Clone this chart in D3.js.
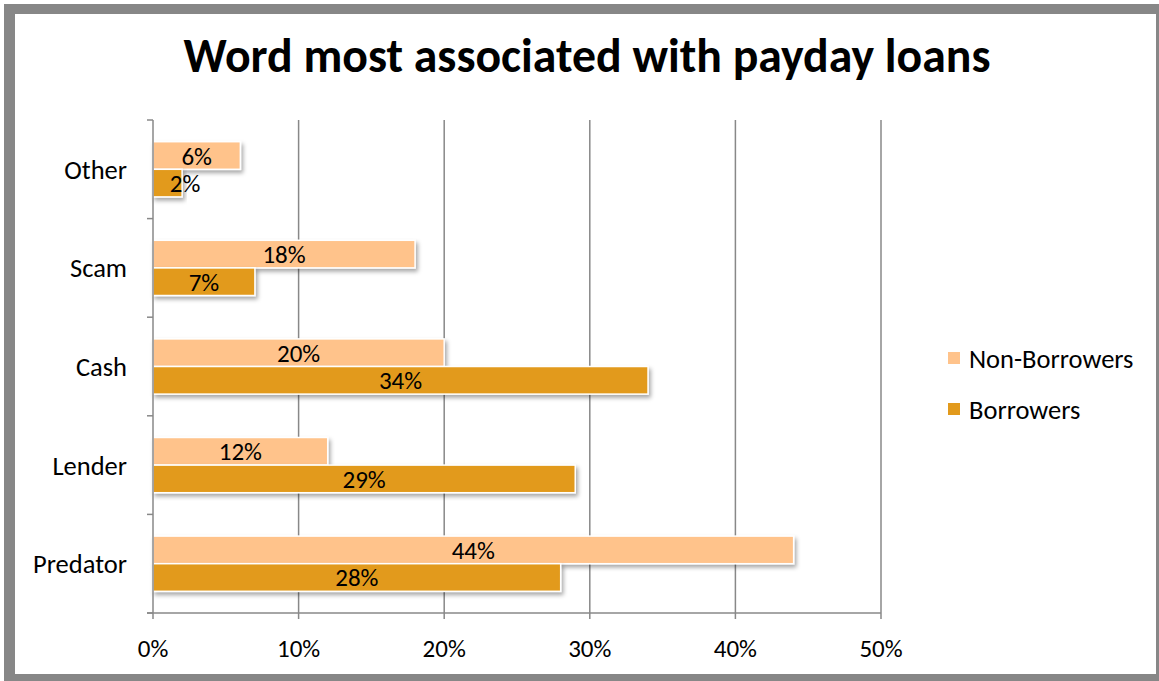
<!DOCTYPE html>
<html>
<head>
<meta charset="utf-8">
<script src="https://cdn.jsdelivr.net/npm/d3@7"></script>
<style>
  html, body { margin: 0; padding: 0; background: #fff; }
  svg { display: block; font-family: Carlito, Calibri, Lato, "Open Sans", sans-serif; }
</style>
</head>
<body>
<svg id="chart" width="1159" height="681"></svg>
<script>
// Survey: word most associated with payday loans (share of respondents)
const categories = ["Other", "Scam", "Cash", "Lender", "Predator"];
const seriesNames = ["Non-Borrowers", "Borrowers"];
const nonBorrowers = [6, 18, 20, 12, 44];
const borrowers = [2, 7, 34, 29, 28];
const xTicks = [0, 10, 20, 30, 40, 50];
const colors = ["#FFC38B", "#E29A1C"];

const W = 1159, H = 681;
const svg = d3.select("#chart");
const fontSize = 25;
const labelSize = 26.5;

// Frame
svg.append("rect").attr("x", 4).attr("y", 4).attr("width", W).attr("height", H).attr("fill", "#878787");
svg.append("rect").attr("x", 15).attr("y", 14).attr("width", 1141).attr("height", 660).attr("fill", "#fff");

// Drop shadow for bars
const defs = svg.append("defs");
const f = defs.append("filter").attr("id", "shadow").attr("x", "-5%").attr("y", "-30%").attr("width", "120%").attr("height", "180%");
f.append("feDropShadow").attr("dx", 2).attr("dy", 3).attr("stdDeviation", 2)
  .attr("flood-color", "#000").attr("flood-opacity", 0.35);

// Title, sized to span its slot
const title = svg.append("text")
  .attr("x", 587).attr("y", 72)
  .attr("text-anchor", "middle")
  .attr("font-weight", "bold")
  .attr("font-size", 40)
  .attr("fill", "#000")
  .text("Word most associated with payday loans");
const tw = title.node().getComputedTextLength();
title.attr("font-size", 40 * 807 / tw);

const plot = { left: 153, right: 881, top: 120, bottom: 613 };

const x = d3.scaleLinear().domain([0, 50]).range([plot.left, plot.right]);
const y = d3.scaleBand().domain(categories).range([plot.top, plot.bottom]).paddingInner(0.44).paddingOuter(0.22);
const ySub = d3.scaleBand().domain(seriesNames).range([0, y.bandwidth()]);

// Vertical gridlines
svg.append("g").selectAll("line").data(xTicks.filter(d => d > 0)).join("line")
  .attr("x1", d => x(d)).attr("x2", d => x(d))
  .attr("y1", plot.top).attr("y2", plot.bottom)
  .attr("stroke", "#888").attr("stroke-width", 1.5);

// Bars
const rows = categories.map((c, i) => ({ cat: c, vals: [nonBorrowers[i], borrowers[i]] }));
const groups = svg.append("g").selectAll("g").data(rows).join("g")
  .attr("transform", d => `translate(0,${y(d.cat)})`);

groups.selectAll("rect").data(d => d.vals.map((v, k) => ({ v, k }))).join("rect")
  .attr("x", x(0))
  .attr("y", d => ySub(seriesNames[d.k]))
  .attr("width", d => x(d.v) - x(0))
  .attr("height", ySub.bandwidth())
  .attr("fill", d => colors[d.k])
  .attr("stroke", "#fff").attr("stroke-width", 1.5)
  .attr("filter", "url(#shadow)");

// Value labels
groups.selectAll("text").data(d => d.vals.map((v, k) => ({ v, k }))).join("text")
  .attr("x", d => Math.max((x(d.v) + x(0)) / 2, plot.left + 32))
  .attr("y", d => ySub(seriesNames[d.k]) + ySub.bandwidth() / 2)
  .attr("dy", "0.36em")
  .attr("text-anchor", "middle")
  .attr("font-size", fontSize)
  .attr("fill", "#000")
  .text(d => d.v + "%");

// Y axis
const yAxis = svg.append("g");
yAxis.append("line").attr("x1", plot.left).attr("x2", plot.left)
  .attr("y1", plot.top).attr("y2", plot.bottom).attr("stroke", "#888").attr("stroke-width", 1.5);
const step = (plot.bottom - plot.top) / categories.length;
yAxis.selectAll("line.tick").data(d3.range(categories.length + 1)).join("line")
  .attr("class", "tick")
  .attr("x1", plot.left - 6).attr("x2", plot.left)
  .attr("y1", i => plot.top + i * step).attr("y2", i => plot.top + i * step)
  .attr("stroke", "#888").attr("stroke-width", 1.5);
yAxis.selectAll("text").data(categories).join("text")
  .attr("x", 127)
  .attr("y", d => y(d) + y.bandwidth() / 2)
  .attr("dy", "0.36em")
  .attr("text-anchor", "end")
  .attr("font-size", labelSize)
  .attr("fill", "#000")
  .text(d => d);

// X axis
const xAxis = svg.append("g");
xAxis.append("line").attr("x1", plot.left - 6).attr("x2", plot.right)
  .attr("y1", plot.bottom).attr("y2", plot.bottom).attr("stroke", "#888").attr("stroke-width", 1.5);
xAxis.selectAll("line.tick").data(xTicks).join("line")
  .attr("class", "tick")
  .attr("x1", d => x(d)).attr("x2", d => x(d))
  .attr("y1", plot.bottom).attr("y2", plot.bottom + 6)
  .attr("stroke", "#888").attr("stroke-width", 1.5);
xAxis.selectAll("text").data(xTicks).join("text")
  .attr("x", d => x(d))
  .attr("y", 657)
  .attr("text-anchor", "middle")
  .attr("font-size", fontSize)
  .attr("fill", "#000")
  .text(d => d + "%");

// Legend
const legend = svg.append("g").selectAll("g").data(seriesNames).join("g")
  .attr("transform", (d, i) => `translate(948,${352 + i * 51})`);
legend.append("rect").attr("width", 12).attr("height", 12).attr("fill", (d, i) => colors[i]);
legend.append("text").attr("x", 21).attr("y", 6).attr("dy", "0.36em")
  .attr("font-size", labelSize).attr("fill", "#000").text(d => d);
</script>
</body>
</html>
